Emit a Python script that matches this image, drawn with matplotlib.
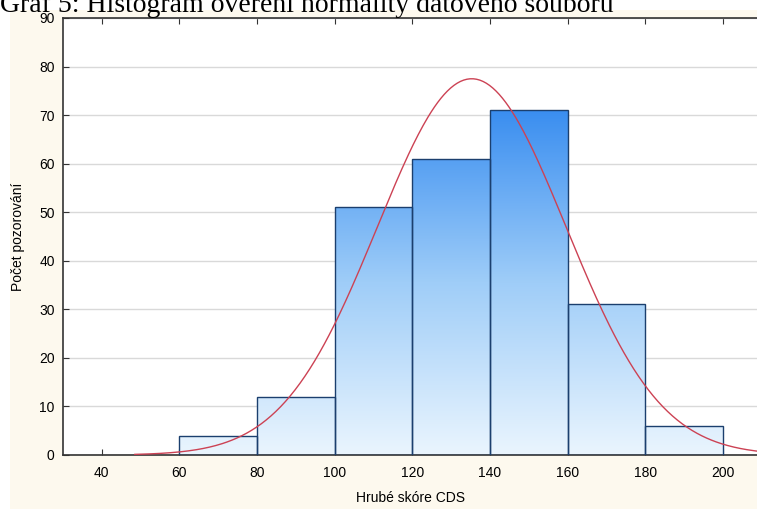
import numpy as np
import matplotlib
matplotlib.use("Agg")
from matplotlib import pyplot as plt
from matplotlib.patches import Rectangle
from matplotlib.colors import LinearSegmentedColormap

# histogram data
bin_edges = [60, 80, 100, 120, 140, 160, 180, 200]
counts = [4, 12, 51, 61, 71, 31, 6]
x_ticks = [40, 60, 80, 100, 120, 140, 160, 180, 200]
y_ticks = [0, 10, 20, 30, 40, 50, 60, 70, 80, 90]

# fitted normal curve parameters
curve_mean = 135.3
curve_sd = 24.3
curve_start = 48.5

title = "Graf 5: Histogram ověření normality datového souboru"
x_label = "Hrubé skóre CDS"
y_label = "Počet pozorování"

cream = "#fdf9ee"
edge_col = "#1b3f6e"
curve_col = "#cc4254"

plt.rcParams['font.family'] = ['Liberation Sans', 'DejaVu Sans']

fig = plt.figure(figsize=(7.57, 5.09), dpi=100)
fig.patch.set_facecolor("white")
# cream panel behind the chart
bg = fig.add_axes([10 / 757, 0, 1 - 10 / 757, 1 - 10 / 509], zorder=-5)
bg.set_facecolor(cream)
bg.set_axis_off()
bg.add_patch(Rectangle((0, 0), 1, 1, transform=bg.transAxes, facecolor=cream,
                       edgecolor="none"))

ax = fig.add_axes([63 / 757, 1 - 455 / 509, 1 - 63 / 757, (455 - 18) / 509])
ax.set_facecolor("white")
ax.set_xlim(30, 208.8)
ax.set_ylim(0, 90)

ymax = max(counts)
cmap = LinearSegmentedColormap.from_list("bars", ["#eaf5fe", "#9fcdf8", "#3a8ef0"])
grad = np.linspace(0, 1, 256).reshape(-1, 1)
for i, c in enumerate(counts):
    x0, x1 = bin_edges[i], bin_edges[i + 1]
    im = ax.imshow(grad, cmap=cmap, aspect="auto", origin="lower",
                   extent=[x0, x1, 0, ymax], zorder=2, vmin=0, vmax=1)
    r = Rectangle((x0, 0), x1 - x0, c, facecolor="none", edgecolor=edge_col,
                  linewidth=1.0, zorder=3)
    ax.add_patch(r)
    im.set_clip_path(r)

n_total = sum(counts)
width = bin_edges[1] - bin_edges[0]
xs = np.linspace(curve_start, 215, 400)
ys = n_total * width / (curve_sd * np.sqrt(2 * np.pi)) * np.exp(-0.5 * ((xs - curve_mean) / curve_sd) ** 2)
ax.plot(xs, ys, color=curve_col, linewidth=1.0, zorder=4)

ax.set_xticks(x_ticks)
ax.set_yticks(y_ticks)
ax.grid(axis="y", color="#d9d9d9", linewidth=1.0, zorder=1)
ax.set_axisbelow(True)
ax.tick_params(axis="x", direction="in", top=True, bottom=True, length=4,
               labelsize=10, pad=8, color="#333333")
ax.tick_params(axis="y", direction="in", left=True, length=4, labelsize=10,
               pad=6, color="#333333")
ax.spines["right"].set_visible(False)
for s in ["left", "bottom", "top"]:
    ax.spines[s].set_color("#333333")
    ax.spines[s].set_linewidth(1.2)

ax.set_xlabel(x_label, fontsize=10, labelpad=8)
ax.set_ylabel(y_label, fontsize=10, labelpad=10)

fig.text(0, 1 - 12 / 509, title, fontsize=20, family=['Liberation Serif'],
         ha="left", va="baseline", color="black", zorder=10)

fig.savefig("out.png", dpi=100, facecolor=fig.get_facecolor())
